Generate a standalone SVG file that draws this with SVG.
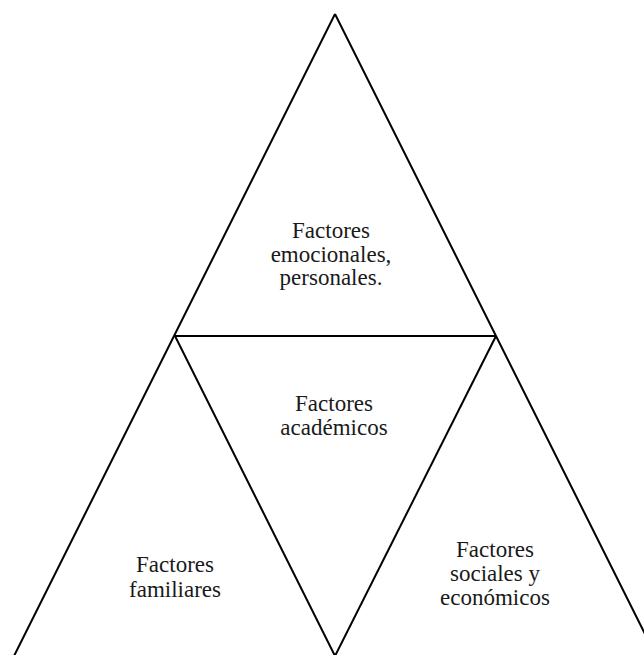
<svg xmlns="http://www.w3.org/2000/svg" width="644" height="655" viewBox="0 0 644 655">
<style>
.ln{fill:none;stroke:#000;stroke-width:2;stroke-linejoin:miter}
.t{font-family:"Liberation Serif","Times New Roman",serif;font-size:23px;fill:#1a1a1a;text-anchor:middle}
</style>
<rect width="644" height="655" fill="#fff"/>
<g id="connectors">
<line class="ln" x1="335" y1="14" x2="12" y2="660"/>
<line class="ln" x1="335" y1="14" x2="658" y2="660"/>
<line class="ln" x1="175" y1="336" x2="496" y2="336"/>
<line class="ln" x1="175" y1="336" x2="337" y2="660"/>
<line class="ln" x1="496" y1="336" x2="333" y2="660"/>
</g>
<g id="top">
<text class="t" x="331" y="238">Factores</text>
<text class="t" x="331" y="262">emocionales,</text>
<text class="t" x="331" y="285">personales.</text>
</g>
<g id="center">
<text class="t" x="334" y="411">Factores</text>
<text class="t" x="334" y="435">académicos</text>
</g>
<g id="left">
<text class="t" x="175" y="572">Factores</text>
<text class="t" x="175" y="597">familiares</text>
</g>
<g id="right">
<text class="t" x="495" y="557">Factores</text>
<text class="t" x="495" y="581">sociales y</text>
<text class="t" x="495" y="605">económicos</text>
</g>
</svg>
